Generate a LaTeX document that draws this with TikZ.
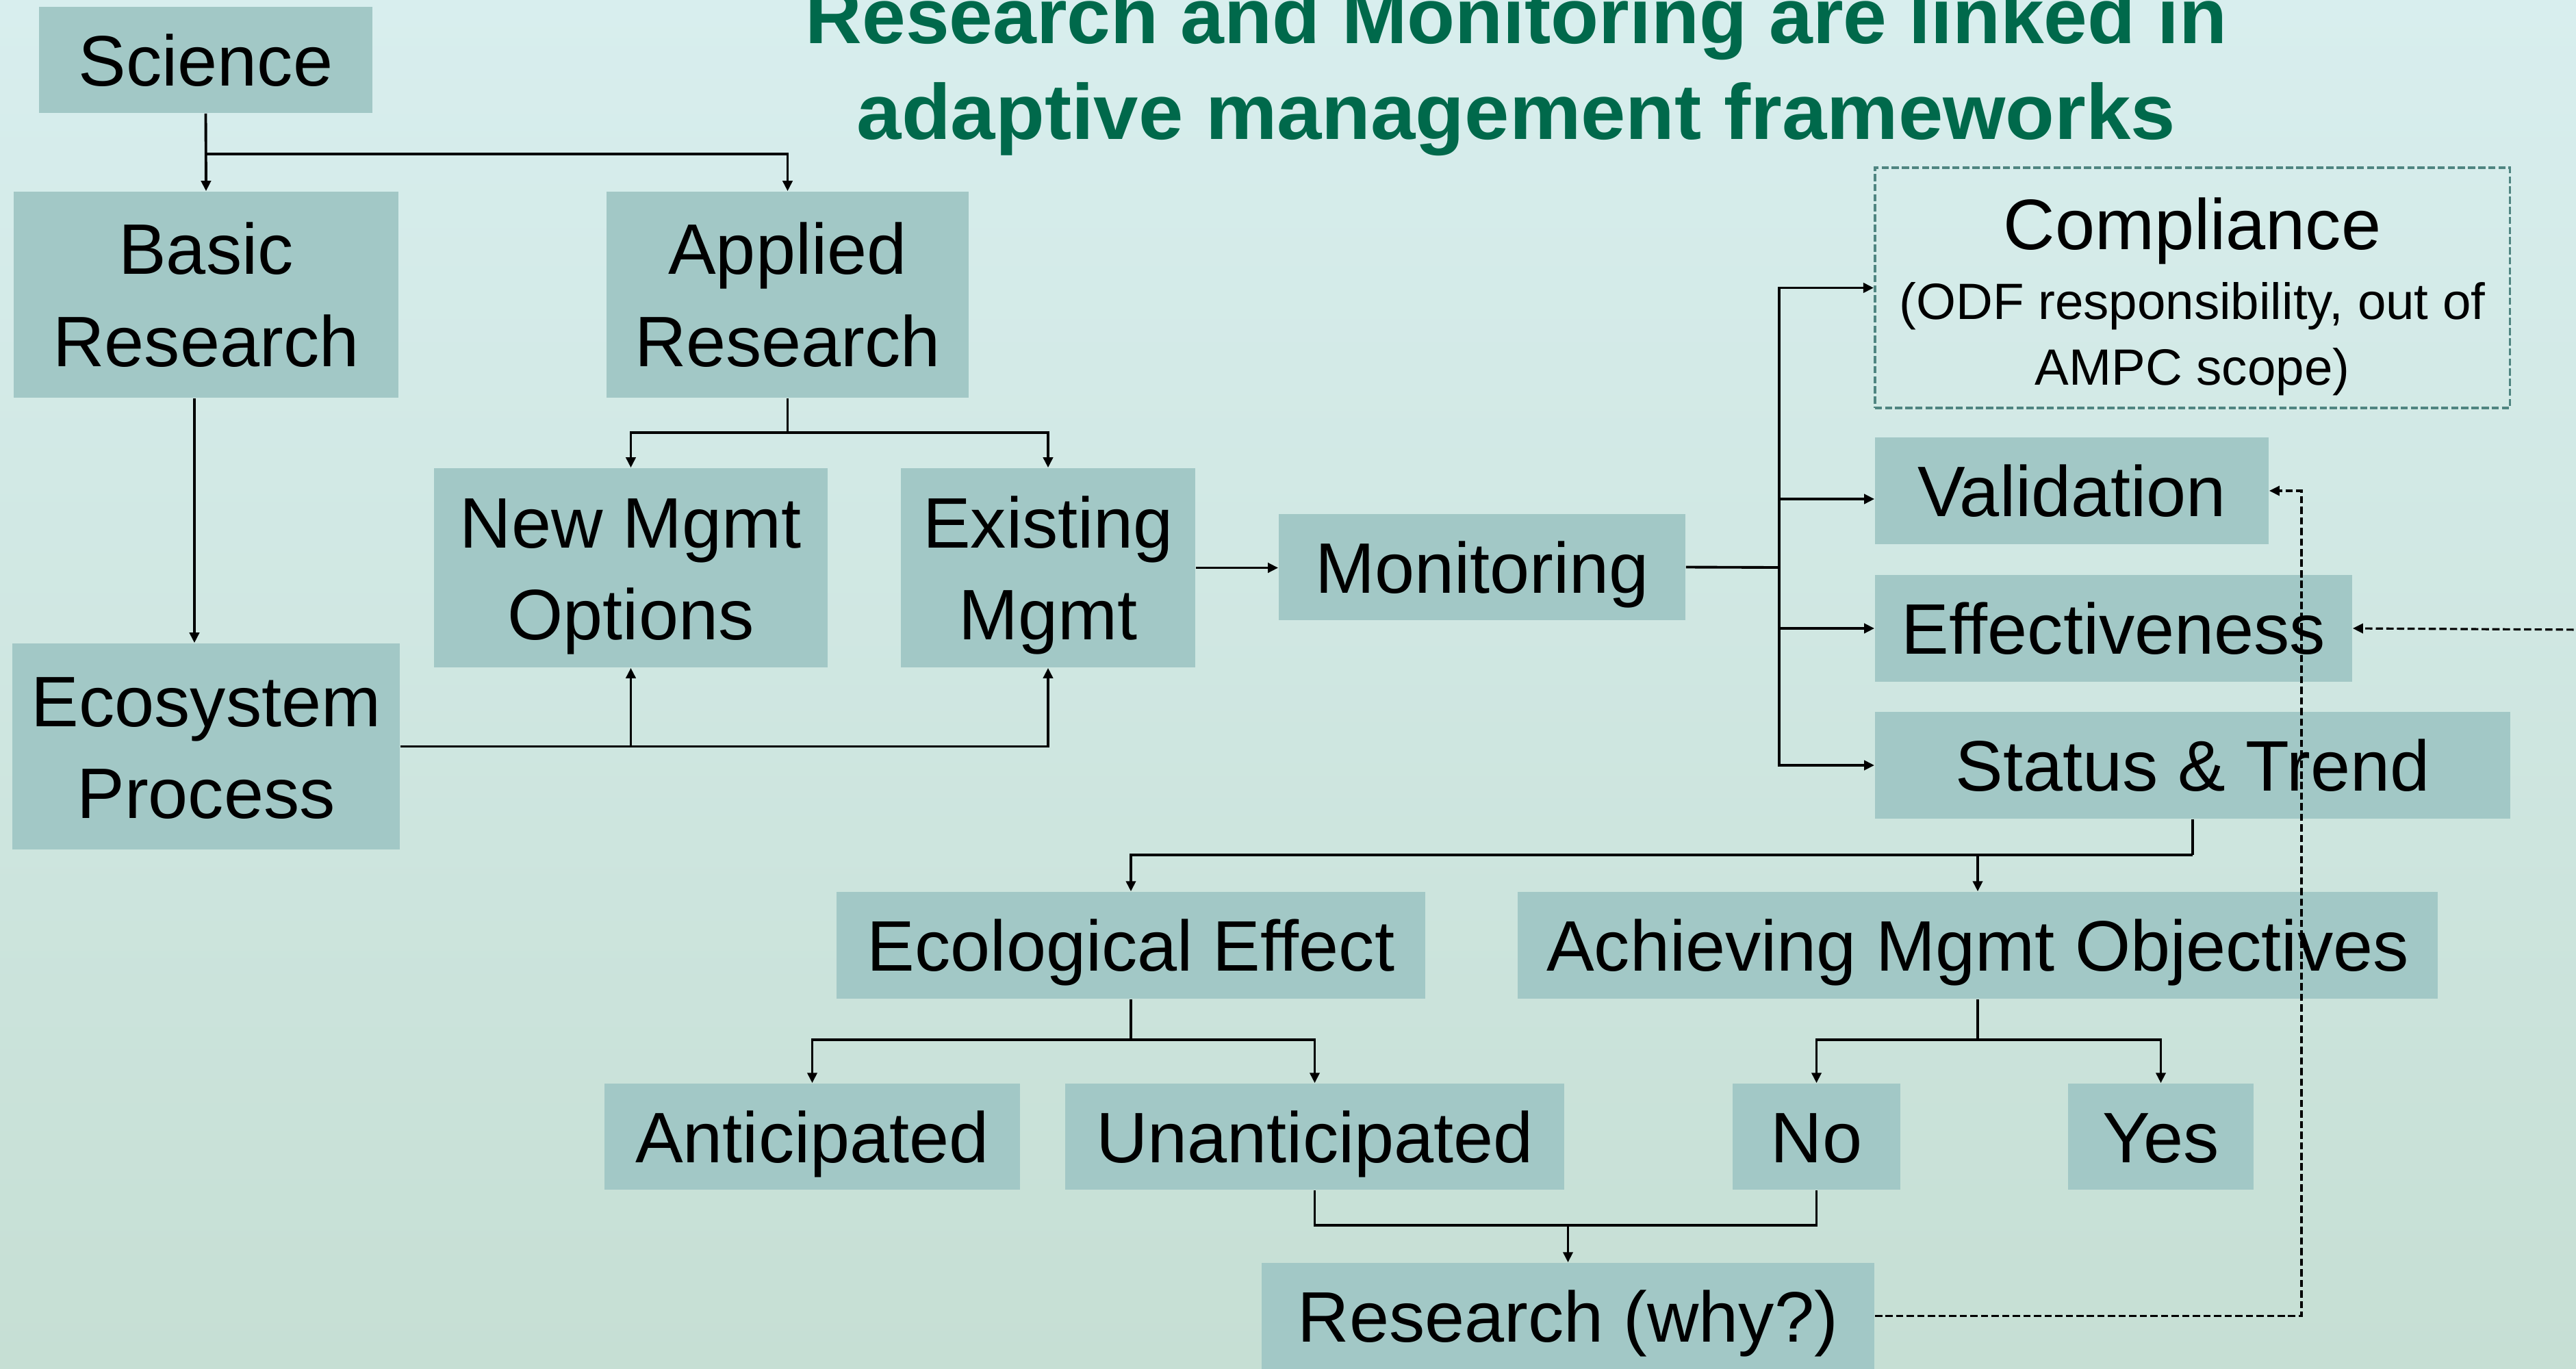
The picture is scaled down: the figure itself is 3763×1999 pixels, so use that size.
\documentclass[tikz,border=0pt]{standalone}
\usepackage{fontspec}
\setmainfont{Liberation Sans}
\usetikzlibrary{arrows.meta}
\definecolor{boxfill}{HTML}{A2C8C6}
\definecolor{bgtop}{HTML}{D8EEEE}
\definecolor{bgbot}{HTML}{C6DFD4}
\definecolor{titlegreen}{HTML}{00694B}
\definecolor{dashteal}{HTML}{4F8581}
\newcommand\twolines[3][1.34cm]{\begin{tabular}[b]{@{}c@{}}\smash{#2}\\\rule{0pt}{#1}\smash{#3}\end{tabular}}
\tikzset{
  box/.style={fill=boxfill, inner sep=0pt, font=\fontsize{29.7}{0}\selectfont, text height=0.75cm, text depth=0pt},
  boxtwo/.style={box, text height=2.09cm, text depth=0pt},
  complbox/.style={draw=dashteal, line width=1pt, dash pattern=on 3pt off 1.2pt, inner sep=0pt,
    font=\fontsize{29.7}{0}\selectfont, text height=2.83cm, text depth=0pt},
  titletext/.style={inner sep=0pt, text=titlegreen, font=\fontsize{32.6}{0}\selectfont\bfseries},
  ln/.style={draw=black, line width=1.1pt},
  arr/.style={ln, -{Triangle[length=0.15cm,width=0.14cm]}},
  dsh/.style={draw=black, line width=0.9pt, dash pattern=on 3pt off 1.4pt, -{Triangle[length=0.15cm,width=0.14cm]}}
}
\begin{document}
\begin{tikzpicture}[x=0.01cm, y=-0.01cm]
\useasboundingbox (0,0) rectangle (3763,1999);
\shade[top color=bgtop, bottom color=bgbot] (0,0) rectangle (3763,1999);

% title
\node[titletext, anchor=base] (ttl) at (2215,203)
  {\twolines[1.39cm]{Research and Monitoring are linked in}{\scalebox{1.025}[1]{adaptive management frameworks}}};

% boxes
\node[box, minimum width=4.87cm, minimum height=1.55cm] (sci) at (300.5,87.5) {Science};
\node[boxtwo, minimum width=5.62cm, minimum height=3.01cm] (basic) at (301,430.5) {\twolines{Basic}{Research}};
\node[boxtwo, minimum width=5.29cm, minimum height=3.01cm] (appl) at (1150.5,430.5) {\twolines{Applied}{Research}};
\node[boxtwo, minimum width=5.75cm, minimum height=2.91cm] (newm) at (921.5,829.5) {\twolines{New Mgmt}{Options}};
\node[boxtwo, minimum width=4.30cm, minimum height=2.91cm] (exist) at (1531,829.5) {\twolines{Existing}{Mgmt}};
\node[boxtwo, minimum width=5.66cm, minimum height=3.01cm] (eco) at (301,1090.5) {\twolines{Ecosystem}{Process}};
\node[box, minimum width=5.94cm, minimum height=1.55cm] (mon) at (2165,828.5) {Monitoring};
\node[complbox, minimum width=9.27cm, minimum height=3.51cm] (comp) at (3202.5,420.5)
  {\begin{tabular}[b]{@{}c@{}}\smash{Compliance}\\
   \rule{0pt}{1.01cm}\smash{\fontsize{21.2}{0}\selectfont (ODF responsibility, out of}\\
   \rule{0pt}{0.96cm}\smash{\fontsize{21.2}{0}\selectfont AMPC scope)}\end{tabular}};
\node[box, minimum width=5.75cm, minimum height=1.56cm] (val) at (3026.5,717) {Validation};
\node[box, minimum width=6.97cm, minimum height=1.56cm] (eff) at (3087.5,918) {Effectiveness};
\node[box, minimum width=9.28cm, minimum height=1.56cm] (stat) at (3203,1118) {Status \& Trend};
\node[box, minimum width=8.60cm, minimum height=1.56cm] (ecol) at (1652,1381) {Ecological Effect};
\node[box, minimum width=13.44cm, minimum height=1.56cm] (ach) at (2889,1381) {Achieving Mgmt Objectives};
\node[box, minimum width=6.07cm, minimum height=1.55cm] (anti) at (1186.5,1660.5) {Anticipated};
\node[box, minimum width=7.29cm, minimum height=1.55cm] (unan) at (1920.5,1660.5) {Unanticipated};
\node[box, minimum width=2.45cm, minimum height=1.55cm] (no) at (2653.5,1660.5) {No};
\node[box, minimum width=2.71cm, minimum height=1.55cm] (yes) at (3156.5,1660.5) {Yes};
\node[box, minimum width=8.95cm, minimum height=1.55cm] (why) at (2290.5,1922.5) {Research (why?)};

% connectors
\coordinate (j1) at (301,225);
\draw[arr] (sci.south) -- (basic.north);
\draw[arr] (j1) -| (appl.north);
\draw[arr] ([xshift=-0.17cm]basic.south) -- ([xshift=-0.17cm]eco.north);
\coordinate (j2) at (1150.5,632);
\draw[ln] (appl.south) -- (j2);
\draw[arr] (j2) -| (newm.north);
\draw[arr] (j2) -| (exist.north);
\draw[arr] (eco.east) -| (newm.south);
\draw[arr] (eco.east) -| (exist.south);
\draw[arr] (exist.east) -- (exist.east -| mon.west);
\coordinate (bus) at (2599,829);
\draw[ln] (mon.east) -- (bus);
\draw[arr] (bus) |- (comp.west);
\draw[arr] (bus) |- ([yshift=-0.12cm]val.west);
\draw[arr] (bus) |- (eff.west);
\draw[arr] (bus) |- (stat.west);
\coordinate (j3) at (3203,1249);
\draw[ln] (stat.south) -- (j3);
\draw[arr] (j3) -| (ecol.north);
\draw[arr] (j3) -| (ach.north);
\coordinate (j4) at (1652,1519);
\draw[ln] (ecol.south) -- (j4);
\draw[arr] (j4) -| (anti.north);
\draw[arr] (j4) -| (unan.north);
\coordinate (j5) at (2889,1519);
\draw[ln] (ach.south) -- (j5);
\draw[arr] (j5) -| (no.north);
\draw[arr] (j5) -| (yes.north);
\coordinate (j6) at (2290.5,1790);
\draw[ln] (unan.south) |- (j6) -| (no.south);
\draw[arr] (j6) -- (why.north);
\coordinate (d1) at (3362,1922.5);
\draw[dsh] (why.east) -- (d1) |- (val.east);
\coordinate (rt) at (3775,920);
\draw[dsh] (rt) -- (eff.east);
\end{tikzpicture}
\end{document}
